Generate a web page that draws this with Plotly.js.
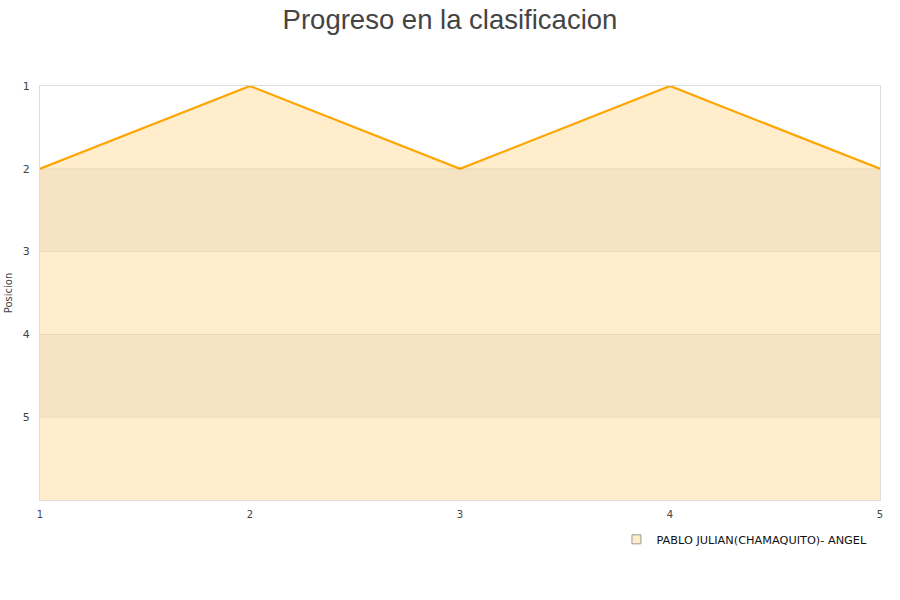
<!DOCTYPE html>
<html><head><meta charset="utf-8">
<script src="https://cdn.plot.ly/plotly-3.0.1.min.js"></script>
<style>body{margin:0;background:#fff}#c{width:900px;height:600px}</style>
</head><body><div id="c"></div>
<script>
const jornadas = [1, 2, 3, 4, 5];
const posiciones = [2, 1, 2, 1, 2];
const equipo = "PABLO JULIAN(CHAMAQUITO)- ANGEL";
const chartTitle = "Progreso en la clasificacion";
const yTitle = "Posicion";
const yTicks = [1, 2, 3, 4, 5];
const yRange = [6, 1];

const fillColor = "#ffedcc";
const lineColor = "#ffa500";

const baseline = jornadas.map(() => yRange[0]);

const traces = [
  {x: jornadas, y: baseline, mode: "lines", line: {width: 0}, showlegend: false, hoverinfo: "skip"},
  {x: jornadas, y: posiciones, mode: "lines", fill: "tonexty", fillcolor: fillColor,
   line: {color: lineColor, width: 2.2}, showlegend: false, name: equipo},
  {x: [null], y: [null], mode: "markers", name: equipo,
   marker: {symbol: "square", size: 9, color: fillColor, line: {color: "#999", width: 1}}}
];

const shapes = [];
[[2, 3], [4, 5]].forEach(b => shapes.push({type: "rect", xref: "paper", x0: 0, x1: 1, yref: "y", y0: b[0], y1: b[1],
  fillcolor: "rgba(0,0,0,0.04)", line: {width: 0}, layer: "above"}));
[2, 3, 4, 5].forEach(v => shapes.push({type: "line", xref: "paper", x0: 0, x1: 1, yref: "y", y0: v, y1: v,
  line: {color: "rgba(0,0,0,0.07)", width: 1}, layer: "above"}));

const layout = {
  width: 900, height: 600,
  margin: {l: 40, r: 20, t: 86, b: 100},
  paper_bgcolor: "#fff", plot_bgcolor: "#fff",
  font: {family: "DejaVu Sans, sans-serif", color: "#444", size: 11},
  title: {text: chartTitle, x: 0.5, xanchor: "center", y: 0.984, yanchor: "top",
          font: {family: "Liberation Sans, Arial, sans-serif", size: 27.5, color: "#444"}},
  xaxis: {range: [1, 5], tickvals: jornadas, showgrid: false, zeroline: false,
          showline: true, linecolor: "#ddd", mirror: true, ticks: "", ticklabelstandoff: 5, tickfont: {size: 10}},
  yaxis: {range: yRange, tickvals: yTicks, showgrid: false, zeroline: false,
          showline: true, linecolor: "#ddd", mirror: true, ticks: "", ticklabelstandoff: 7,
          title: {text: yTitle, font: {size: 10}, standoff: 8}, tickfont: {size: 11}},
  shapes: shapes,
  showlegend: true,
  legend: {orientation: "h", x: 0.991, xanchor: "right", y: -0.06, yanchor: "top",
           font: {family: "DejaVu Sans, sans-serif", size: 11.3, color: "#111"}, bgcolor: "rgba(0,0,0,0)"}
};

Plotly.newPlot("c", traces, layout, {displayModeBar: false, staticPlot: true});
</script></body></html>
